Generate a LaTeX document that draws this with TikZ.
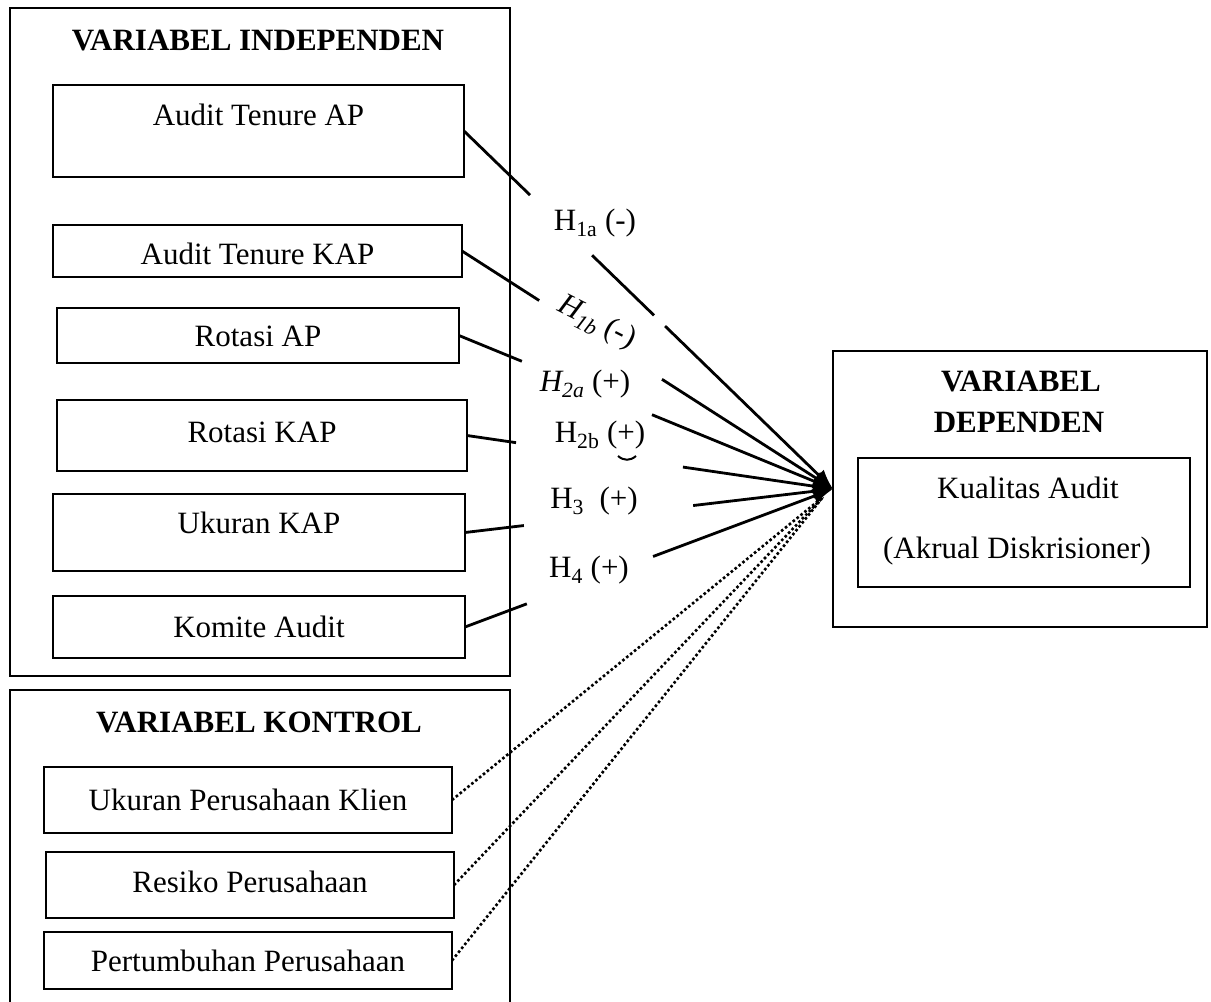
\documentclass[tikz,border=0pt]{standalone}
\usepackage{fontspec}
\setmainfont{Liberation Serif}
\usetikzlibrary{arrows.meta}

\newcommand{\figfont}{\fontsize{31}{37}\selectfont}

\tikzset{
  groupbox/.style={draw, line width=1.6pt, inner sep=0pt, outer sep=0pt},
  varbox/.style={draw, line width=1.6pt, inner sep=0pt, outer sep=0pt, font=\figfont, text height=21pt, text depth=0pt},
  grouptitle/.style={font=\figfont\bfseries, inner sep=0pt, text height=21pt, text depth=0pt},
  boxtext/.style={font=\figfont, inner sep=0pt, text height=21pt, text depth=0pt},
  link/.style={line width=2.8pt},
  headarrow/.style={-{Latex[length=20pt,width=15pt]}},
  ctrllink/.style={line width=2.6pt, dash pattern=on 2.6pt off 2.4pt}
}

\begin{document}
\begin{tikzpicture}[x=1pt, y=-1pt]
  \useasboundingbox (0,0) rectangle (1211,1002);

  % variabel independen
  \node [groupbox, minimum width=500pt, minimum height=668pt] (indep) at (260,342) {}; % Draws a rectangle
  \node [grouptitle] (indeptitle) at (258,39.5) {VARIABEL INDEPENDEN};
  \node [varbox, minimum width=411pt, minimum height=92pt, text depth=33pt] (tap) at (258.5,131) {Audit Tenure AP};
  \node [varbox, minimum width=409pt, minimum height=52pt, text height=27pt] (tkap) at (257.5,251) {Audit Tenure KAP};
  \node [varbox, minimum width=402pt, minimum height=55pt] (rap) at (258,335.5) {Rotasi AP};
  \node [varbox, minimum width=410pt, minimum height=71pt, text depth=7pt] (rkap) at (262,435.5) {Rotasi KAP};
  \node [varbox, minimum width=412pt, minimum height=77pt, text depth=19pt] (ukap) at (259,532.5) {Ukuran KAP};
  \node [varbox, minimum width=412pt, minimum height=62pt] (komite) at (259,627) {Komite Audit};

  % variabel kontrol
  \node [groupbox, minimum width=500pt, minimum height=322pt] (kontrol) at (260,851) {}; % Draws a rectangle
  \node [grouptitle] (kontroltitle) at (259,722) {VARIABEL KONTROL};
  \node [varbox, minimum width=408pt, minimum height=66pt] (ukpk) at (248,800) {Ukuran Perusahaan Klien};
  \node [varbox, minimum width=408pt, minimum height=66pt, text depth=6pt] (resiko) at (250,885) {Resiko Perusahaan};
  \node [varbox, minimum width=408pt, minimum height=57pt] (tumbuh) at (248,960.5) {Pertumbuhan Perusahaan};

  % variabel dependen
  \node [groupbox, minimum width=374pt, minimum height=276pt] (dep) at (1020,489) {}; % Draws a rectangle
  \node [grouptitle] (deptitle1) at (1021,381) {VARIABEL};
  \node [grouptitle] (deptitle2) at (1019,422) {DEPENDEN};
  \node [varbox, minimum width=332pt, minimum height=129pt] (kualitas) at (1024,522.5) {};
  \node [boxtext] (kualitas1) at (1028,488) {Kualitas Audit};
  \node [boxtext] (kualitas2) at (1017,548) {(Akrual Diskrisioner)};

  % hipotesis
  \node [boxtext] (h1a) at (595,220) {H\textsubscript{1a} (-)};
  \node [boxtext, rotate=-27] (h1b) at (598,320) {\textit{H\textsubscript{1b}} (-)};
  \node [boxtext] (h2a) at (585,381) {\textit{H\textsubscript{2a}} (+)};
  \node [boxtext] (h2b) at (600,432) {H\textsubscript{2b} (+)};
  \node [boxtext] (h3) at (594,498) {H\textsubscript{3}\ \ (+)};
  \node [boxtext] (h4) at (589,567) {H\textsubscript{4} (+)};

  % gaps round the labels
  \path (tap.east) -- (dep.west) coordinate [pos=.179] (h1a-1) coordinate [pos=.347] (h1a-2)
    coordinate [pos=.515] (h1a-3) coordinate [pos=.545] (h1a-4);
  \path (tkap.east) -- (dep.west) coordinate [pos=.208] (h1b-1) coordinate [pos=.539] (h1b-2);
  \path (rap.east) -- (dep.west) coordinate [pos=.168] (h2a-1) coordinate [pos=.516] (h2a-2);
  \path (rkap.east) -- (dep.west) coordinate [pos=.134] (h2b-1) coordinate [pos=.590] (h2b-2);
  \path (ukap.east) -- (dep.west) coordinate [pos=.160] (h3-1) coordinate [pos=.620] (h3-2);
  \path (komite.east) -- (dep.west) coordinate [pos=.168] (h4-1) coordinate [pos=.511] (h4-2);
  \coordinate (ctrlend) at (823,497);

  \draw [link] (tap.east) to (h1a-1);
  \draw [link] (h1a-2) to (h1a-3);
  \draw [link, headarrow] (h1a-4) to (dep.west);

  \draw [link] (tkap.east) to (h1b-1);
  \draw [link, headarrow] (h1b-2) to (dep.west);

  \draw [link] (rap.east) to (h2a-1);
  \draw [link, headarrow] (h2a-2) to (dep.west);

  \draw [link] (rkap.east) to (h2b-1);
  \draw [link, headarrow] (h2b-2) to (dep.west);

  \draw [link] (ukap.east) to (h3-1);
  \draw [link, headarrow] (h3-2) to (dep.west);

  \draw [link] (komite.east) to (h4-1);
  \draw [link, headarrow] (h4-2) to (dep.west);

  \draw [ctrllink] (ukpk.east) to (ctrlend);
  \draw [ctrllink] (resiko.east) to (ctrlend);
  \draw [ctrllink] (tumbuh.east) to (ctrlend);

  \draw [line width=2pt] (618,456) .. controls (624,461) and (630,461) .. (636,456);
\end{tikzpicture}
\end{document}
